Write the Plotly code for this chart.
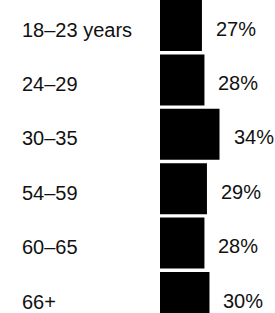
import plotly.graph_objects as go

categories = ["18–23 years", "24–29", "30–35", "54–59", "60–65", "66+"]
values = [27, 28, 34, 29, 28, 30]
value_labels = ["27%", "28%", "34%", "29%", "28%", "30%"]

W, H = 275, 313
L = 160
plot_w = W - L

fig = go.Figure(go.Bar(
    x=values, y=categories, orientation="h",
    marker=dict(color="#000000", line=dict(width=0)),
    hoverinfo="skip",
))

font_family = "Liberation Sans, Arial, Helvetica, sans-serif"

annotations = []
for cat, v, lab in zip(categories, values, value_labels):
    annotations.append(dict(
        x=(20 - L) / plot_w, xref="paper", y=cat, yref="y",
        text=cat, showarrow=False, xanchor="left", yanchor="middle",
        yshift=-4, font=dict(size=20, color="#111111", family=font_family),
    ))
    annotations.append(dict(
        x=v, xref="x", y=cat, yref="y",
        text=lab, showarrow=False, xanchor="left", yanchor="middle",
        xshift=12, yshift=-3, font=dict(size=20, color="#111111", family=font_family),
    ))

fig.update_layout(
    width=W, height=H,
    margin=dict(l=L, r=0, t=0, b=0, pad=0),
    paper_bgcolor="white", plot_bgcolor="white",
    bargap=0.0625,
    showlegend=False,
    xaxis=dict(range=[10.3, 56.1], visible=False, fixedrange=True),
    yaxis=dict(type="category", categoryorder="array", categoryarray=categories,
               range=[5.285, -0.469], visible=False, fixedrange=True),
    annotations=annotations,
)

fig.write_html(
    "out.html",
    config={"displayModeBar": False},
    post_script="document.body.style.margin='0';document.body.style.overflow='hidden';",
)
